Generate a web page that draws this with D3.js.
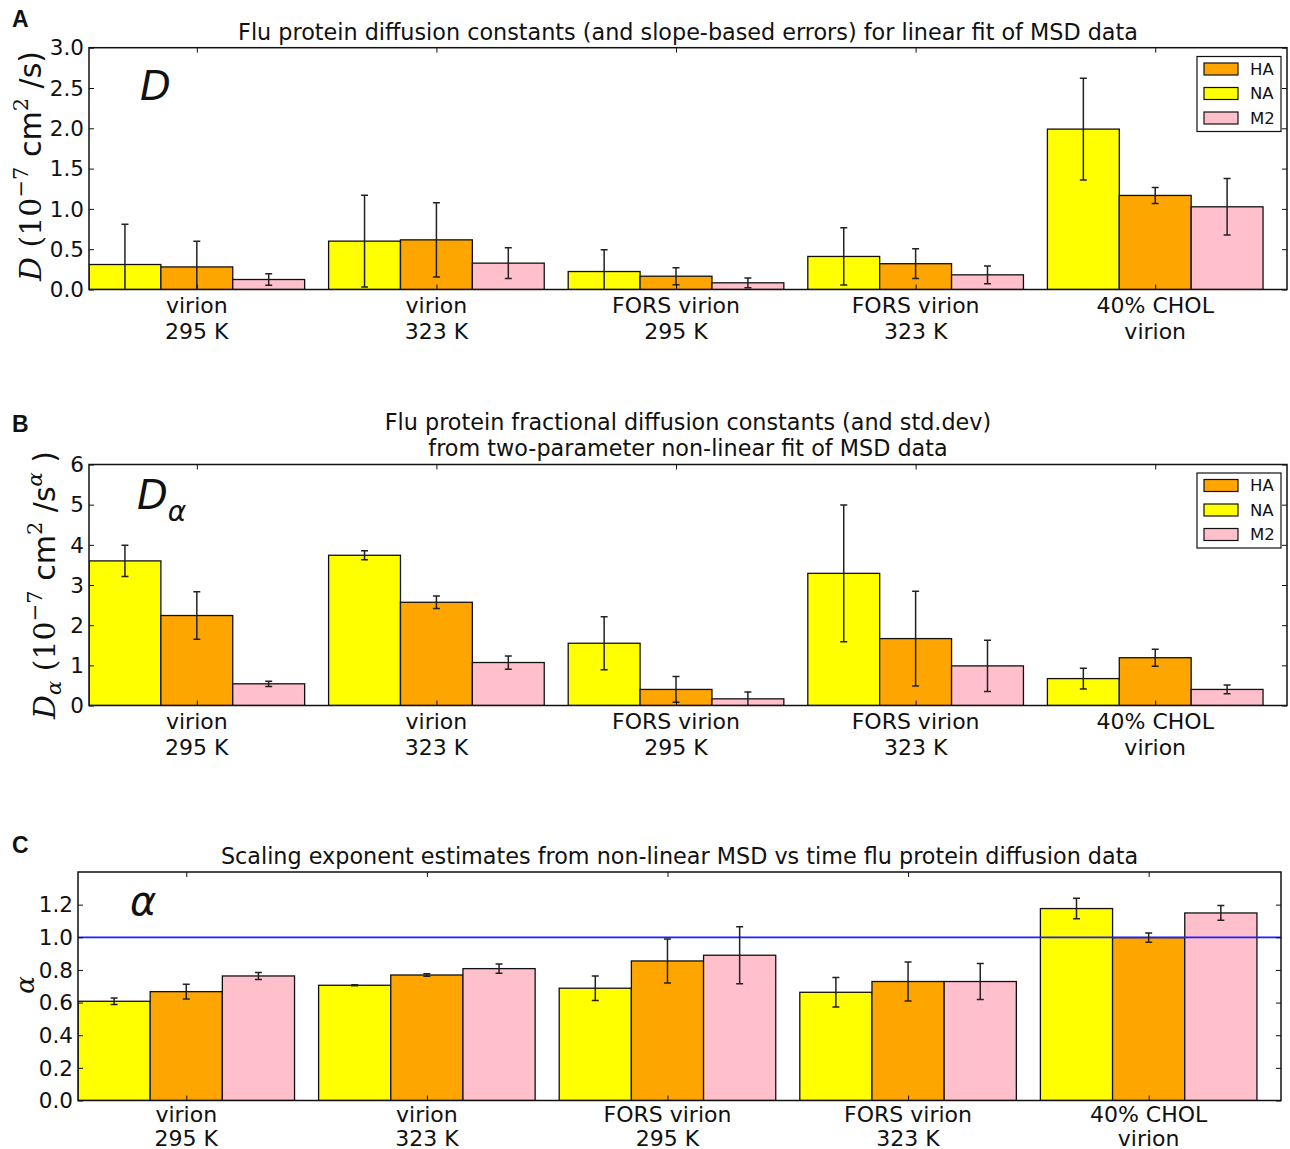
<!DOCTYPE html>
<html>
<head>
<meta charset="utf-8">
<script src="https://cdn.jsdelivr.net/npm/d3@7"></script>
<style>
  body { margin: 0; background: #fff; }
  text { font-family: "DejaVu Sans", sans-serif; fill: #111; }
</style>
</head>
<body>
<svg id="fig" width="1290" height="1149"></svg>
<script>
// categories (two-line tick labels)
const groupLine1 = ["virion", "virion", "FORS virion", "FORS virion", "40% CHOL"];
const groupLine2 = ["295 K", "323 K", "295 K", "323 K", "virion"];
const seriesNames = ["NA", "HA", "M2"];
const legendOrder = ["HA", "NA", "M2"];

// panel A: D, linear fit
const dNA = [0.31, 0.60, 0.223, 0.41, 1.99];
const dNAerr = [0.50, 0.57, 0.27, 0.355, 0.63];
const dHA = [0.28, 0.616, 0.165, 0.32, 1.167];
const dHAerr = [0.32, 0.46, 0.105, 0.185, 0.10];
const dM2 = [0.124, 0.327, 0.083, 0.182, 1.026];
const dM2err = [0.07, 0.19, 0.06, 0.11, 0.35];

// panel B: D_alpha, non-linear fit
const daNA = [3.60, 3.74, 1.55, 3.29, 0.67];
const daNAerr = [0.39, 0.11, 0.66, 1.70, 0.26];
const daHA = [2.24, 2.57, 0.40, 1.666, 1.19];
const daHAerr = [0.59, 0.155, 0.32, 1.18, 0.21];
const daM2 = [0.54, 1.07, 0.166, 0.986, 0.40];
const daM2err = [0.065, 0.165, 0.17, 0.64, 0.11];

// panel C: alpha
const aNA = [0.608, 0.706, 0.688, 0.663, 1.176];
const aNAerr = [0.02, 0.003, 0.075, 0.09, 0.063];
const aHA = [0.667, 0.769, 0.855, 0.729, 0.998];
const aHAerr = [0.045, 0.008, 0.135, 0.12, 0.028];
const aM2 = [0.763, 0.808, 0.89, 0.729, 1.149];
const aM2err = [0.022, 0.028, 0.175, 0.11, 0.045];

const yTicksA = [0, 0.5, 1.0, 1.5, 2.0, 2.5, 3.0];
const yTicksB = [0, 1, 2, 3, 4, 5, 6];
const yTicksC = [0, 0.2, 0.4, 0.6, 0.8, 1.0, 1.2];
const refLineC = 1.0;

const colors = { NA: "#ffff00", HA: "#ffa500", M2: "#ffc0cb" };
const barW = 0.3;

const svg = d3.select("#fig");

const panels = [
  {
    id: "A", letterY: 27,
    title: ["Flu protein diffusion constants (and slope-based errors) for linear fit of MSD data"],
    titleY: 40,
    left: 89, right: 1287, top: 47.7, bottom: 289.5,
    ymax: 3, ticks: yTicksA, fmt: d3.format(".1f"),
    values: [dNA, dHA, dM2], errs: [dNAerr, dHAerr, dM2err],
    legend: { x: 1197, y: 56.5 },
    catY: [23, 49],
    ylab: { x: 41, y: 166, size: 30, parts: [
      { t: "D", serif: true, it: true }, { t: " (10", serif: true },
      { t: "\u22127", sup: true, serif: true }, { t: " cm" },
      { t: "2", sup: true, serif: true }, { t: " /s)" }] },
    inset: { x: 140, y: 100, main: "D" }
  },
  {
    id: "B", letterY: 432,
    title: ["Flu protein fractional diffusion constants (and std.dev)",
            "from two-parameter non-linear fit of MSD data"],
    titleY: 430,
    left: 89, right: 1287, top: 464.5, bottom: 705.5,
    ymax: 6, ticks: yTicksB, fmt: d3.format("d"),
    values: [daNA, daHA, daM2], errs: [daNAerr, daHAerr, daM2err],
    legend: { x: 1197, y: 473 },
    catY: [23, 49],
    ylab: { x: 55, y: 585, size: 30, parts: [
      { t: "D", serif: true, it: true }, { t: "\u03b1", sub: true, serif: true, it: true },
      { t: "  (10", serif: true }, { t: "\u22127", sup: true, serif: true },
      { t: " cm" }, { t: "2", sup: true, serif: true }, { t: " /s" },
      { t: "\u03b1", sup: true, serif: true, it: true }, { t: " )" }] },
    inset: { x: 137, y: 509, main: "D", sub: "\u03b1" }
  },
  {
    id: "C", letterY: 853,
    title: ["Scaling exponent estimates from non-linear MSD vs time flu protein diffusion data"],
    titleY: 864,
    left: 78, right: 1281, top: 872, bottom: 1100.5,
    ymax: 1.4, ticks: yTicksC, fmt: d3.format(".1f"),
    values: [aNA, aHA, aM2], errs: [aNAerr, aHAerr, aM2err],
    legend: null, refLine: refLineC,
    catY: [21, 45],
    ylab: { x: 34, y: 985, size: 26, parts: [{ t: "\u03b1", serif: true, it: true }] },
    inset: { x: 130, y: 915, main: "\u03b1" }
  }
];

panels.forEach((p) => {
  const g = svg.append("g");
  const x = d3.scaleLinear().domain([0, 5]).range([p.left, p.right]);
  const y = d3.scaleLinear().domain([0, p.ymax]).range([p.bottom, p.top]);
  const w = p.right - p.left, h = p.bottom - p.top;

  svg.append("clipPath").attr("id", "clip" + p.id)
    .append("rect").attr("x", p.left).attr("y", p.top).attr("width", w).attr("height", h);

  // panel letter
  g.append("text").attr("x", 12).attr("y", p.letterY)
    .style("font-family", "'Liberation Sans', Arial, sans-serif")
    .style("font-weight", "bold").style("font-size", "23px").text(p.id);

  // title
  p.title.forEach((line, i) => {
    g.append("text").attr("x", (p.left + p.right) / 2).attr("y", p.titleY + i * 26)
      .attr("text-anchor", "middle").style("font-size", "22.3px").text(line);
  });

  const plot = g.append("g").attr("clip-path", `url(#clip${p.id})`);

  // bars
  const bars = [];
  p.values.forEach((vals, s) => {
    vals.forEach((v, i) => bars.push({ s, i, v, e: p.errs[s][i], name: seriesNames[s] }));
  });
  plot.selectAll(".bar").data(bars).enter().append("rect")
    .attr("x", (d) => x(d.i + d.s * barW))
    .attr("y", (d) => y(d.v))
    .attr("width", x(barW) - x(0))
    .attr("height", (d) => y(0) - y(d.v))
    .attr("fill", (d) => colors[d.name])
    .attr("stroke", "#111").attr("stroke-width", 1.3);

  if (p.refLine != null) {
    plot.append("line").attr("x1", p.left).attr("x2", p.right)
      .attr("y1", y(p.refLine)).attr("y2", y(p.refLine))
      .attr("stroke", "#1f1fff").attr("stroke-width", 1.8);
  }

  // error bars
  const eb = plot.selectAll(".err").data(bars).enter().append("g")
    .attr("stroke", "#222").attr("stroke-width", 1.5);
  const cx = (d) => x(d.i + d.s * barW + barW / 2);
  eb.append("line").attr("x1", cx).attr("x2", cx)
    .attr("y1", (d) => y(d.v - d.e)).attr("y2", (d) => y(d.v + d.e));
  [-1, 1].forEach((k) => {
    eb.append("line").attr("x1", (d) => cx(d) - 3.5).attr("x2", (d) => cx(d) + 3.5)
      .attr("y1", (d) => y(d.v + k * d.e)).attr("y2", (d) => y(d.v + k * d.e));
  });

  // frame
  g.append("rect").attr("x", p.left).attr("y", p.top).attr("width", w).attr("height", h)
    .attr("fill", "none").attr("stroke", "#111").attr("stroke-width", 1.5);

  // ticks (inside, all four sides)
  const yAxL = g.append("g").attr("transform", `translate(${p.left},0)`)
    .call(d3.axisRight(y).tickValues(p.ticks).tickSize(5).tickFormat(""));
  const yAxR = g.append("g").attr("transform", `translate(${p.right},0)`)
    .call(d3.axisLeft(y).tickValues(p.ticks).tickSize(5).tickFormat(""));
  const tickPos = d3.range(5).map((i) => i + 1.5 * barW);
  const xAxB = g.append("g").attr("transform", `translate(0,${p.bottom})`)
    .call(d3.axisTop(x).tickValues(tickPos).tickSize(5).tickFormat(""));
  const xAxT = g.append("g").attr("transform", `translate(0,${p.top})`)
    .call(d3.axisBottom(x).tickValues(tickPos).tickSize(5).tickFormat(""));
  [yAxL, yAxR, xAxB, xAxT].forEach((a) => {
    a.select(".domain").remove();
    a.selectAll("line").attr("stroke", "#111").attr("stroke-width", 1);
  });

  // y tick labels
  g.selectAll(".ytl").data(p.ticks).enter().append("text")
    .attr("x", p.left - 5).attr("y", (d) => y(d)).attr("dy", "0.36em")
    .attr("text-anchor", "end").style("font-size", "21.5px").text(p.fmt);

  // category labels
  tickPos.forEach((t, i) => {
    g.append("text").attr("x", x(t)).attr("y", p.bottom + p.catY[0])
      .attr("text-anchor", "middle").style("font-size", "22px").text(groupLine1[i]);
    g.append("text").attr("x", x(t)).attr("y", p.bottom + p.catY[1])
      .attr("text-anchor", "middle").style("font-size", "22px").text(groupLine2[i]);
  });

  // y label
  const yl = g.append("text")
    .attr("transform", `translate(${p.ylab.x},${p.ylab.y}) rotate(-90)`)
    .attr("text-anchor", "middle").style("font-size", p.ylab.size + "px");
  let shift = 0;
  p.ylab.parts.forEach((part) => {
    const ts = yl.append("tspan").text(part.t);
    if (part.serif) ts.style("font-family", "'DejaVu Serif', serif");
    if (part.it) ts.style("font-style", "italic");
    let target = 0;
    if (part.sup) { ts.style("font-size", Math.round(p.ylab.size * 0.7) + "px"); target = -p.ylab.size * 0.42; }
    if (part.sub) { ts.style("font-size", Math.round(p.ylab.size * 0.7) + "px"); target = p.ylab.size * 0.2; }
    if (target !== shift) { ts.attr("dy", target - shift); shift = target; }
  });

  // inset label
  const il = g.append("text").attr("x", p.inset.x).attr("y", p.inset.y)
    .style("font-size", "40px").style("font-style", "italic").text(p.inset.main);
  if (p.inset.sub) {
    il.append("tspan").attr("dy", 12).style("font-size", "28px").text(p.inset.sub);
  }

  // legend
  if (p.legend) {
    const lg = g.append("g").attr("transform", `translate(${p.legend.x},${p.legend.y})`);
    lg.append("rect").attr("width", 84).attr("height", 75)
      .attr("fill", "#fff").attr("stroke", "#111").attr("stroke-width", 1.2);
    legendOrder.forEach((name, k) => {
      const yy = 12.5 + k * 24.5;
      lg.append("rect").attr("x", 7).attr("y", yy - 6).attr("width", 34).attr("height", 12)
        .attr("fill", colors[name]).attr("stroke", "#111").attr("stroke-width", 1.2);
      lg.append("text").attr("x", 53).attr("y", yy).attr("dy", "0.36em")
        .style("font-size", "16.5px").text(name);
    });
  }
});
</script>
</body>
</html>
